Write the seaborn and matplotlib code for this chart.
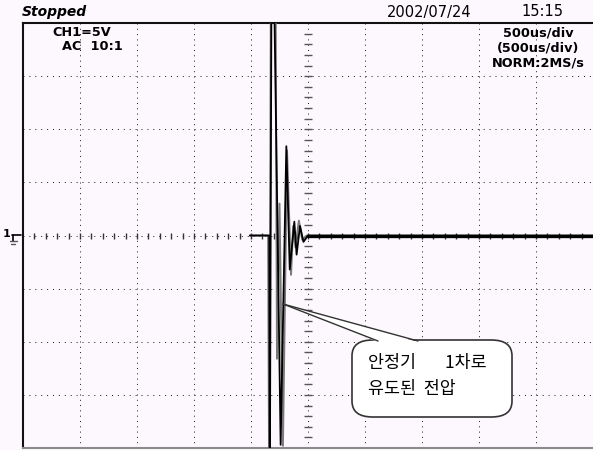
import numpy as np
import pandas as pd
import seaborn as sns
import matplotlib.pyplot as plt
from matplotlib.patches import FancyBboxPatch, Polygon

# 오실로스코프 화면: 500us/div x 10 div, 5V/div x 8 div
t_black = [1.99, 2.16, 2.165, 2.18, 2.20, 2.26, 2.31, 2.34, 2.38, 2.40, 2.43, 2.46, 2.50, 5.00]
v_black = [0.0, 0.0, -25.0, 25.0, 25.0, -19.7, 8.4, -3.2, 1.3, -1.8, 0.9, -0.6, 0.0, 0.0]

t_grey = [1.99, 2.15, 2.16, 2.175, 2.215, 2.228, 2.25, 2.28, 2.316, 2.351, 2.37, 2.39, 2.42, 2.45, 2.49]
v_grey = [0.0, 0.0, -25.0, 25.0, 25.0, -11.6, 3.0, -19.8, 8.0, -3.7, 0.9, -1.1, 1.4, -0.4, 0.0]

header_left = "Stopped"
header_date = "2002/07/24"
header_time = "15:15"
info_left = ["CH1=5V", "AC  10:1"]
info_right = ["500us/div", "(500us/div)", "NORM:2MS/s"]
callout = ["안정기\u3000   1차로", "유도된  전압"]

W, H = 593, 450
BG = "#fdf8fd"

df_black = pd.DataFrame({"t": t_black, "v": v_black})
df_grey = pd.DataFrame({"t": t_grey, "v": v_grey})

sns.set_theme(style="white")
plt.rcParams["font.family"] = ["DejaVu Sans"]
plt.rcParams["text.color"] = "black"

fig = plt.figure(figsize=(W / 100, H / 100), dpi=100, facecolor=BG)
ax = fig.add_axes([23 / W, 2 / H, 570 / W, 425 / H], facecolor=BG)


def px(x, y):
    return x / W, 1 - y / H


# сетка (точечные линии)
for xv in np.arange(0.5, 5.0, 0.5):
    ax.axvline(xv, color="#222222", lw=0.72, ls=(0, (1, 4.3)), zorder=1)
for yv in np.arange(-15, 20, 5):
    ax.axhline(yv, color="#222222", lw=0.72, ls=(0, (1, 4.9)), zorder=1)

# центральные оси с мелкими делениями
ticks_t = np.arange(0.1, 5.0, 0.1)
ax.plot(ticks_t, np.zeros_like(ticks_t), ls="none", marker="|", ms=4, mew=1.0, color="#333333", zorder=1)
ticks_v = np.arange(-19, 20, 1)
ax.plot(np.full_like(ticks_v, 2.5, dtype=float), ticks_v, ls="none", marker="_", ms=6, mew=1.0,
        color="#555555", zorder=1)

sns.lineplot(data=df_grey, x="t", y="v", sort=False, estimator=None, color="#7a7a7a", lw=1.4, ax=ax, zorder=3)
sns.lineplot(data=df_black, x="t", y="v", sort=False, estimator=None, color="black", lw=1.3, ax=ax, zorder=4)
tail = df_black[df_black["t"] >= 2.5]
sns.lineplot(data=tail, x="t", y="v", sort=False, estimator=None, color="black", lw=2.4, ax=ax, zorder=4)

ax.set_xlim(0, 5)
ax.set_ylim(-20, 20)
ax.set_xticks([])
ax.set_yticks([])
ax.set_xlabel("")
ax.set_ylabel("")
for side in ["left", "top"]:
    ax.spines[side].set_color("#111111")
    ax.spines[side].set_linewidth(1.5)
ax.spines["bottom"].set_color("#8a8a8a")
ax.spines["bottom"].set_linewidth(1.5)
ax.spines["right"].set_visible(False)

# заголовок
fig.text(*px(22, 12), header_left, fontsize=10, fontweight="bold", fontstyle="italic", va="center", ha="left")
fig.text(*px(387, 12), header_date, fontsize=10.5, va="center", ha="left")
fig.text(*px(521, 12), header_time, fontsize=10.5, va="center", ha="left")
for i, s in enumerate(info_left):
    fig.text(*px(52 + 10 * i, 32 + 15 * i), s, fontsize=9.3, fontweight="bold", va="center", ha="left")
for i, s in enumerate(info_right):
    fig.text(*px(538, 33 + 15 * i), s, fontsize=9.3, fontweight="bold", va="center", ha="center")

# маркер земли
fig.text(*px(7, 234), "1", fontsize=8, fontweight="bold", va="center", ha="center")
fig.add_artist(plt.Line2D([12 / W, 21 / W], [1 - 235 / H] * 2, color="black", lw=1.2))
fig.add_artist(plt.Line2D([13 / W, 13 / W], [1 - 235 / H, 1 - 241 / H], color="black", lw=1.2))
fig.add_artist(plt.Line2D([10 / W, 17 / W], [1 - 241 / H] * 2, color="#555555", lw=1.0))
fig.add_artist(plt.Line2D([11 / W, 15 / W], [1 - 243.5 / H] * 2, color="#555555", lw=1.0))

# выноска
box = FancyBboxPatch(px(352, 417), 160 / W, 77 / H, boxstyle="round,pad=0,rounding_size=0.035",
                     transform=fig.transFigure, facecolor="white", edgecolor="#333333", lw=1.2, zorder=5)
fig.add_artist(box)
wedge = Polygon([px(283, 304), px(378, 342), px(418, 342)], closed=True, transform=fig.transFigure,
                facecolor="white", edgecolor="none", zorder=6)
fig.add_artist(wedge)
for bx in (378, 418):
    fig.add_artist(plt.Line2D([283 / W, bx / W], [1 - 304 / H, 1 - 341 / H], color="#333333", lw=1.0, zorder=7))
for i, s in enumerate(callout):
    fig.text(*px(368, 363 + 26 * i), s, fontsize=12.5, va="center", ha="left",
             family=["Noto Sans CJK KR", "DejaVu Sans"], zorder=8)

fig.savefig("out.png", dpi=100, facecolor=BG)
